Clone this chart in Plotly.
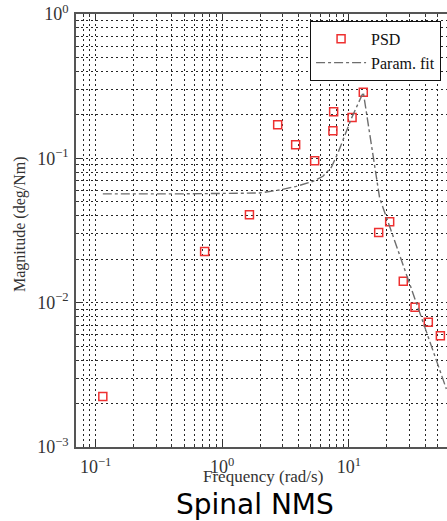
import math
import plotly.graph_objects as go

# Measured power spectral density of the spinal neuromuscular system
psd_freq = [0.114, 0.726, 1.64, 2.74, 3.80, 5.37, 7.48, 7.58, 10.6, 13.0,
            17.2, 21.0, 26.9, 33.3, 42.4, 52.8]
psd_mag = [0.00224, 0.0226, 0.0406, 0.171, 0.124, 0.0964, 0.155, 0.210, 0.192, 0.287,
           0.0306, 0.0363, 0.0141, 0.00929, 0.00732, 0.00591]

# Parametric model fit, sampled along the frequency axis
fit_freq = [0.114, 0.461, 1.97, 2.84, 3.85, 5.20, 6.24, 7.27, 8.20, 9.27,
            10.5, 13.0, 17.5, 20.4, 58.9]
fit_mag = [0.0567, 0.0567, 0.0575, 0.0604, 0.064, 0.0693, 0.0751, 0.0867, 0.109, 0.146,
           0.190, 0.287, 0.053, 0.0363, 0.00252]

# Axis ticks
x_tickvals = [0.1, 1, 10]
x_ticktext = ["10<sup>\u22121</sup>", "10<sup>0</sup>", "10<sup>1</sup>"]
y_tickvals = [0.001, 0.01, 0.1, 1]
y_ticktext = ["10<sup>\u22123</sup>", "10<sup>\u22122</sup>", "10<sup>\u22121</sup>", "10<sup>0</sup>"]

x_minor = [m * 10.0 ** k for k in (-2, -1, 0, 1) for m in range(2, 10)]
y_minor = [m * 10.0 ** k for k in (-3, -2, -1) for m in range(2, 10)]

SERIF = "Liberation Serif, Times New Roman, serif"
GRID = dict(gridcolor="#262626", gridwidth=1, griddash="2px,3px")

fig = go.Figure()
fig.add_trace(go.Scatter(
    x=psd_freq, y=psd_mag, mode="markers", name="PSD",
    marker=dict(symbol="square-open", size=8, color="#ee3030",
                line=dict(width=1.5, color="#ee3030")),
))
fig.add_trace(go.Scatter(
    x=fit_freq, y=fit_mag, mode="lines", name="Param. fit",
    line=dict(color="#6e6e6e", width=1.4, dash="dashdot"),
))

axis_common = dict(
    type="log", showline=True, linecolor="#555555", linewidth=1.5,
    ticks="inside", ticklen=7, tickcolor="#333333", tickwidth=1,
    showgrid=True, zeroline=False,
    tickfont=dict(family=SERIF, size=18, color="#333333"),
    **GRID,
)

fig.update_xaxes(
    range=[math.log10(0.07), 1.775],
    tickmode="array", tickvals=x_tickvals, ticktext=x_ticktext,
    mirror="ticks", ticklabelstandoff=3,
    minor=dict(tickmode="array", tickvals=x_minor, ticks="inside", ticklen=3,
               tickcolor="#333333", showgrid=True, **GRID),
    **axis_common,
)
fig.update_yaxes(
    range=[-3, 0],
    tickmode="array", tickvals=y_tickvals, ticktext=y_ticktext,
    mirror=False, ticklabelstandoff=2,
    minor=dict(tickmode="array", tickvals=y_minor, ticks="inside", ticklen=3,
               tickcolor="#333333", showgrid=True, **GRID),
    **axis_common,
)

fig.update_layout(
    width=447, height=521,
    margin=dict(l=76, r=0, t=14, b=74),
    paper_bgcolor="white", plot_bgcolor="white",
    showlegend=True,
    legend=dict(
        x=0.984, y=0.984, xanchor="right", yanchor="top",
        bgcolor="white", bordercolor="#111111", borderwidth=1,
        font=dict(family=SERIF, size=16, color="#111111"),
        itemwidth=50, tracegroupgap=0,
    ),
    annotations=[
        dict(text="Frequency (rad/s)", xref="paper", yref="paper",
             x=0.504, y=-0.069, xanchor="center", yanchor="middle",
             showarrow=False, font=dict(family=SERIF, size=17, color="#333333")),
        dict(text="Magnitude (deg/Nm)", xref="paper", yref="paper",
             x=-0.151, y=0.515, xanchor="center", yanchor="middle", textangle=-90,
             showarrow=False, font=dict(family=SERIF, size=16, color="#333333")),
        dict(text="Spinal NMS", xref="paper", yref="paper",
             x=0.4825, y=-0.133, xanchor="center", yanchor="middle",
             showarrow=False, font=dict(family="DejaVu Sans, sans-serif", size=28, color="#000000")),
    ],
)

fig.write_html("out.html")
